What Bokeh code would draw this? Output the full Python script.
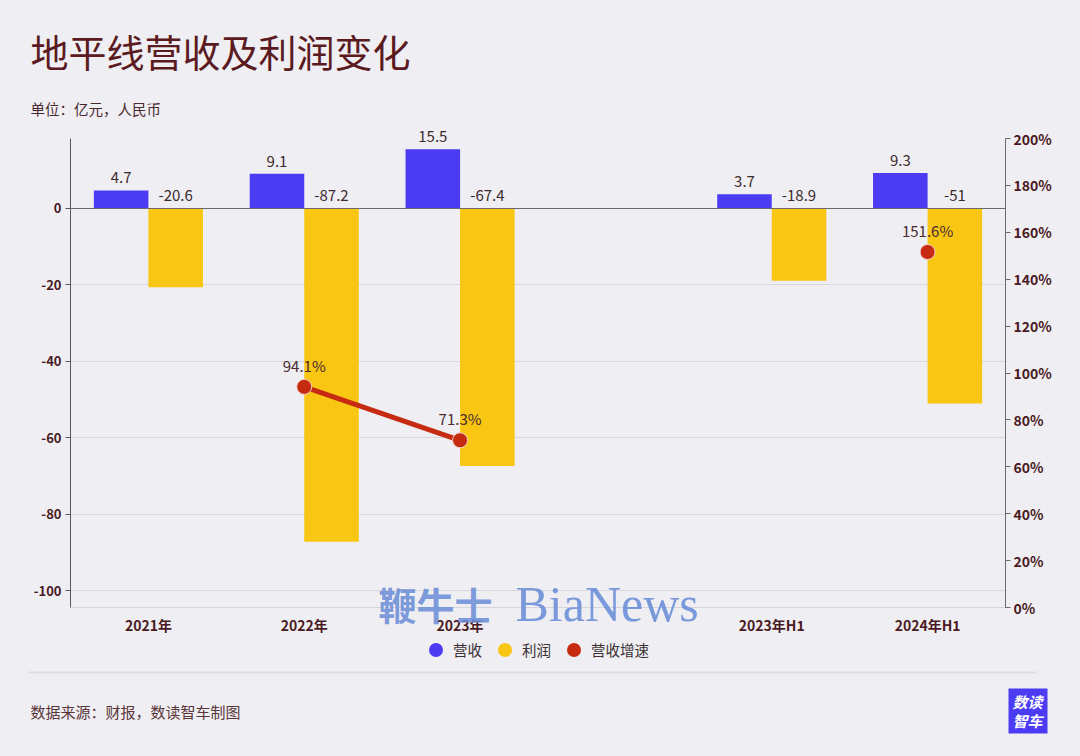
from bokeh.plotting import figure
from bokeh.models import (FactorRange, Range1d, LinearAxis, CategoricalAxis, FixedTicker,
                          PrintfTickFormatter, ColumnDataSource, LabelSet, Label, Grid,
                          BoxAnnotation, Legend, LegendItem)
from bokeh.transform import dodge
from bokeh.embed import file_html
from bokeh.resources import INLINE
from bokeh.core.properties import value

# ---------------- data ----------------
categories = ["2021年", "2022年", "2023年", "2023年H1", "2024年H1"]
revenue = [4.7, 9.1, 15.5, 3.7, 9.3]          # 营收 (亿元)
profit = [-20.6, -87.2, -67.4, -18.9, -51]     # 利润 (亿元)
growth = [None, 94.1, 71.3, None, 151.6]       # 营收增速 (%)
left_ticks = [-100, -80, -60, -40, -20, 0]
right_ticks = [0, 20, 40, 60, 80, 100, 120, 140, 160, 180, 200]
factors = categories[:3] + [" "] + categories[3:]

# ---------------- style / geometry ----------------
W, H = 1075, 756
BG = "#efeef3"
BLUE = "#4b3cf4"
YELLOW = "#f8c613"
RED = "#c62a10"
DARK = "#4a1a22"
FONT = "Noto Sans CJK SC"

PLOT_TOP, PLOT_BOT = 138, 607     # pixel rows of the chart area
L_MIN, L_MAX = -104.4, 18.3       # left axis visible span
R_MIN, R_MAX = 0, 200             # right axis span (%)
n_slots = len(factors)
AX_L, AX_R = 70, 1005


def extend(lo, hi):
    k = (PLOT_BOT - PLOT_TOP) / (hi - lo)
    return lo - (H - PLOT_BOT) / k, hi + PLOT_TOP / k


y0, y1 = extend(L_MIN, L_MAX)
r0, r1 = extend(R_MIN, R_MAX)
pad_pct = ((W - (AX_R - AX_L)) / 2) / ((AX_R - AX_L) / n_slots) * 2 / n_slots

p = figure(width=W, height=H,
           x_range=FactorRange(factors=factors, range_padding=pad_pct, range_padding_units="percent"),
           y_range=Range1d(y0, y1), output_backend="svg", toolbar_location=None,
           x_axis_location=None, y_axis_location=None, min_border=0,
           background_fill_color=BG, border_fill_color=BG, outline_line_color=None)
p.extra_y_ranges = {"pct": Range1d(r0, r1)}
p.xgrid.visible = False
p.ygrid.visible = False


def style_axis(ax, size):
    ax.major_tick_out = 5
    ax.major_tick_in = 0
    ax.minor_tick_line_color = None
    ax.major_label_text_font = FONT
    ax.major_label_text_font_style = "bold"
    ax.major_label_text_font_size = size
    ax.major_label_text_color = DARK


la = LinearAxis(ticker=FixedTicker(ticks=left_ticks), formatter=PrintfTickFormatter(format="%d"),
                fixed_location=0, bounds=(L_MIN, L_MAX))
style_axis(la, "13px")
la.axis_line_color = "#5a5a5a"
la.major_tick_line_color = "#5a5a5a"
la.major_label_standoff = 4
p.add_layout(la, "left")

ra = LinearAxis(y_range_name="pct", ticker=FixedTicker(ticks=right_ticks),
                formatter=PrintfTickFormatter(format="%d%%"), fixed_location=n_slots,
                bounds=(R_MIN, R_MAX))
style_axis(ra, "14px")
ra.axis_line_color = "#6a6a6a"
ra.major_tick_line_color = "#6a6a6a"
ra.major_label_standoff = 3
p.add_layout(ra, "right")

ba = CategoricalAxis(fixed_location=L_MIN, bounds=(0, n_slots))
style_axis(ba, "14px")
ba.axis_line_color = "#d6d5db"
ba.major_tick_line_color = None
ba.major_label_standoff = 2
p.add_layout(ba, "below")

grid = Grid(dimension=1, ticker=FixedTicker(ticks=[t for t in left_ticks if t != 0]),
            grid_line_color="#d8d7dd", cross_bounds=(0, n_slots))
p.add_layout(grid)
zero = Grid(dimension=1, ticker=FixedTicker(ticks=[0]), grid_line_color="#6a6a6a",
            cross_bounds=(0, n_slots), level="annotation")
p.add_layout(zero)

# ---------------- bars ----------------
src = ColumnDataSource(dict(
    cat=categories, rev=revenue, prof=profit,
    rev_txt=[f"{v:g}" for v in revenue], prof_txt=[f"{v:g}" for v in profit],
    rev_y=[max(v, 0) for v in revenue], prof_y=[max(v, 0) for v in profit],
))
p.vbar(x=dodge("cat", -0.175, range=p.x_range), top="rev", bottom=0, width=0.35,
       source=src, fill_color=BLUE, line_color=None)
p.vbar(x=dodge("cat", 0.175, range=p.x_range), top="prof", bottom=0, width=0.35,
       source=src, fill_color=YELLOW, line_color=None)

p.add_layout(LabelSet(x=dodge("cat", -0.175, range=p.x_range), y="rev_y", text="rev_txt", source=src,
                      text_align="center", text_baseline="alphabetic", y_offset=7,
                      text_font=value(FONT), text_font_size="15px", text_color="#3b2a2c"))
p.add_layout(LabelSet(x=dodge("cat", 0.175, range=p.x_range), y="prof_y", text="prof_txt", source=src,
                      text_align="center", text_baseline="alphabetic", y_offset=7,
                      text_font=value(FONT), text_font_size="15px", text_color="#3b2a2c"))

# ---------------- growth line ----------------
gsrc = ColumnDataSource(dict(
    cat=categories,
    g=[float("nan") if v is None else v for v in growth],
    g_txt=["" if v is None else f"{v}%" for v in growth],
))
p.line(x="cat", y="g", source=gsrc, y_range_name="pct", line_color=RED, line_width=5)
gpts = p.scatter(x="cat", y="g", source=gsrc, y_range_name="pct", size=15,
                 fill_color=RED, line_color="#f3d0c8", line_width=1)
p.add_layout(LabelSet(x="cat", y="g", text="g_txt", source=gsrc, y_range_name="pct",
                      text_align="center", text_baseline="alphabetic", y_offset=15,
                      text_font=value(FONT), text_font_size="15px", text_color="#4a2a2e"))

# ---------------- legend ----------------
NAN = float("nan")
lb = p.scatter(x=[categories[0]], y=[NAN], fill_color=BLUE, line_color=None)
ly = p.scatter(x=[categories[0]], y=[NAN], fill_color=YELLOW, line_color=None)
lr = p.scatter(x=[categories[0]], y=[NAN], fill_color=RED, line_color=None)
legend = Legend(items=[LegendItem(label="营收", renderers=[lb]),
                       LegendItem(label="利润", renderers=[ly]),
                       LegendItem(label="营收增速", renderers=[lr])],
                orientation="horizontal", location=(418, H - 667),
                glyph_width=35, glyph_height=35, label_standoff=-7, spacing=5,
                padding=0, margin=0, background_fill_alpha=0, border_line_color=None,
                label_text_font=FONT, label_text_font_size="14.5px", label_text_color="#3a3034")
p.add_layout(legend)


# ---------------- texts ----------------
def lab(ix, iy, text, size, color, style="normal", font=FONT, align="left", alpha=1.0):
    p.add_layout(Label(x=ix, y=H - iy, x_units="screen", y_units="screen", text=text,
                       text_font=font, text_font_size=size, text_color=color,
                       text_font_style=style, text_baseline="middle", text_align=align,
                       text_alpha=alpha))


def box(l, r, t, b, color):
    p.add_layout(BoxAnnotation(left=l, right=r, top=H - t, bottom=H - b,
                               left_units="screen", right_units="screen", top_units="screen",
                               bottom_units="screen", fill_color=color, fill_alpha=1,
                               line_color=None))


lab(30, 50, "地平线营收及利润变化", "38px", "#5a1a20")
lab(30, 108, "单位：亿元，人民币", "14.5px", "#4a2a2e")
lab(30, 711, "数据来源：财报，数读智车制图", "15px", "#5a3538")

box(28, 1036, 671, 673, "#dddce2")          # separator
box(1008, 1047, 688, 733, BLUE)             # logo
lab(1027, 701, "数读", "15px", "white", style="bold italic", align="center")
lab(1027, 720, "智车", "15px", "white", style="bold italic", align="center")

# watermark
lab(378, 603, "鞭牛士", "38px", "#6d8fd8", style="bold", alpha=0.9)
lab(515, 603, "BiaNews", "50px", "#6d8fd8", font="Liberation Serif", alpha=0.9)

html = file_html(p, INLINE)
html = html.replace("<head>", "<head><style>body{background:%s;}</style>" % BG, 1)
open("out.html", "w").write(html)
